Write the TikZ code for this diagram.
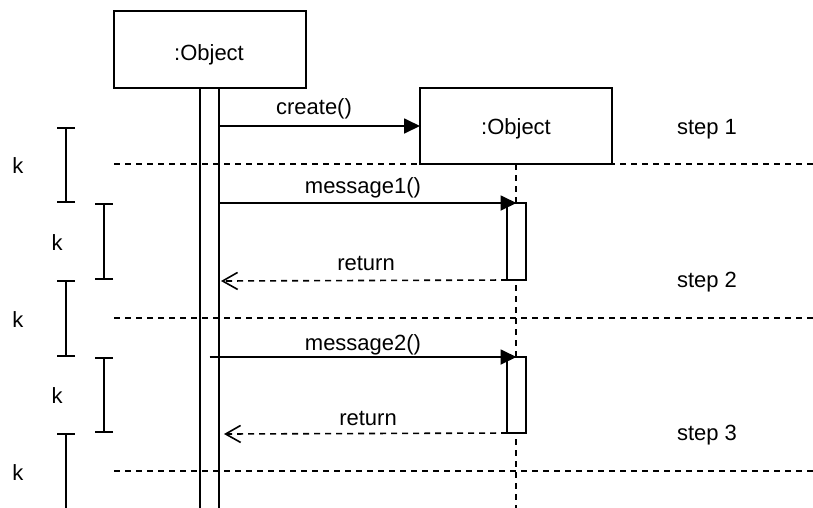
\documentclass[tikz,border=0pt]{standalone}
\usepackage{fontspec}
\setmainfont{Liberation Sans}
\usetikzlibrary{arrows.meta}
\begin{document}
\begin{tikzpicture}[x=1pt,y=-1pt,
  font=\fontsize{22}{26}\selectfont,
  every node/.style={inner sep=0pt,outer sep=0pt},
  box/.style={draw,line width=1.8pt,fill=white,minimum width=192pt},
  actbar/.style={draw,line width=1.8pt,fill=white,minimum width=19pt},
  lifebar/.style={draw,line width=1.8pt,minimum width=19pt},
  lbl/.style={anchor=base},
  msgline/.style={line width=1.8pt,-{Triangle[length=16pt,width=15pt]}},
  retline/.style={line width=1.6pt,dash pattern=on 6pt off 5pt,-{Straight Barb[length=15pt,width=17pt,line width=1.6pt]}},
  sep/.style={line width=1.6pt,dash pattern=on 6pt off 5pt},
  life/.style={line width=1.6pt,dash pattern=on 6pt off 5pt},
  ibeam/.style={line width=1.8pt,{Bar[width=18pt]}-{Bar[width=18pt]}},
  ibeamtop/.style={line width=1.8pt,{Bar[width=18pt]}-}
]
\useasboundingbox (0,0) rectangle (813,507);
% separators
\coordinate (s1a) at (114,164); \coordinate (s1b) at (813,164);
\coordinate (s2a) at (114,318); \coordinate (s2b) at (813,318);
\coordinate (s3a) at (114,471); \coordinate (s3b) at (813,471);
\draw[sep] (s1a) -- (s1b);
\draw[sep] (s2a) -- (s2b);
\draw[sep] (s3a) -- (s3b);
% object 1
\node[box,minimum height=77pt] (obj1) at (210,49.5) {};
\node[lbl] (obj1t) at (209,60) {:Object};
\node[lifebar,minimum height=430pt] (bar1) at (209.5,303) {};
% object 2
\node[box,minimum height=76pt] (obj2) at (516,126) {};
\node[lbl] (obj2t) at (516,134) {:Object};
\coordinate (l2end) at (516,512);
\draw[life] (obj2.south) -- (l2end);
\node[actbar,minimum height=77pt] (act1) at (516.5,241.5) {};
\node[actbar,minimum height=76pt] (act2) at (516.5,395) {};
% messages
\coordinate (c1) at (219,126);
\draw[msgline] (c1) -- (obj2.west);
\node[lbl] (lcreate) at (314,114) {create()};
\draw[msgline] (bar1.east |- act1.north) -- (act1.north);
\node[lbl] (lm1) at (363,193) {message1()};
\coordinate (r1) at (221,281);
\draw[retline] (act1.south west) -- (r1);
\node[lbl] (lr1) at (366,270) {return};
\draw[msgline] (bar1.center |- act2.north) -- (act2.north);
\node[lbl] (lm2) at (363,350) {message2()};
\coordinate (r2) at (224,434);
\draw[retline] (act2.south west) -- (r2);
\node[lbl] (lr2) at (368,425) {return};
% steps
\node[lbl] (st1) at (707,134) {step 1};
\node[lbl] (st2) at (707,287) {step 2};
\node[lbl] (st3) at (707,440) {step 3};
% k brackets
\coordinate (k1a) at (66,127); \coordinate (k1b) at (66,203);
\coordinate (k2a) at (104,203); \coordinate (k2b) at (104,280);
\coordinate (k3a) at (66,280); \coordinate (k3b) at (66,357);
\coordinate (k4a) at (104,357); \coordinate (k4b) at (104,433);
\coordinate (k5a) at (66,433); \coordinate (k5b) at (66,512);
\draw[ibeam] (k1a) -- (k1b);
\draw[ibeam] (k2a) -- (k2b);
\draw[ibeam] (k3a) -- (k3b);
\draw[ibeam] (k4a) -- (k4b);
\draw[ibeamtop] (k5a) -- (k5b);
\node[lbl] (tk1) at (18,173) {k};
\node[lbl] (tk2) at (57,250) {k};
\node[lbl] (tk3) at (18,327) {k};
\node[lbl] (tk4) at (57,403) {k};
\node[lbl] (tk5) at (18,480) {k};
\end{tikzpicture}
\end{document}
